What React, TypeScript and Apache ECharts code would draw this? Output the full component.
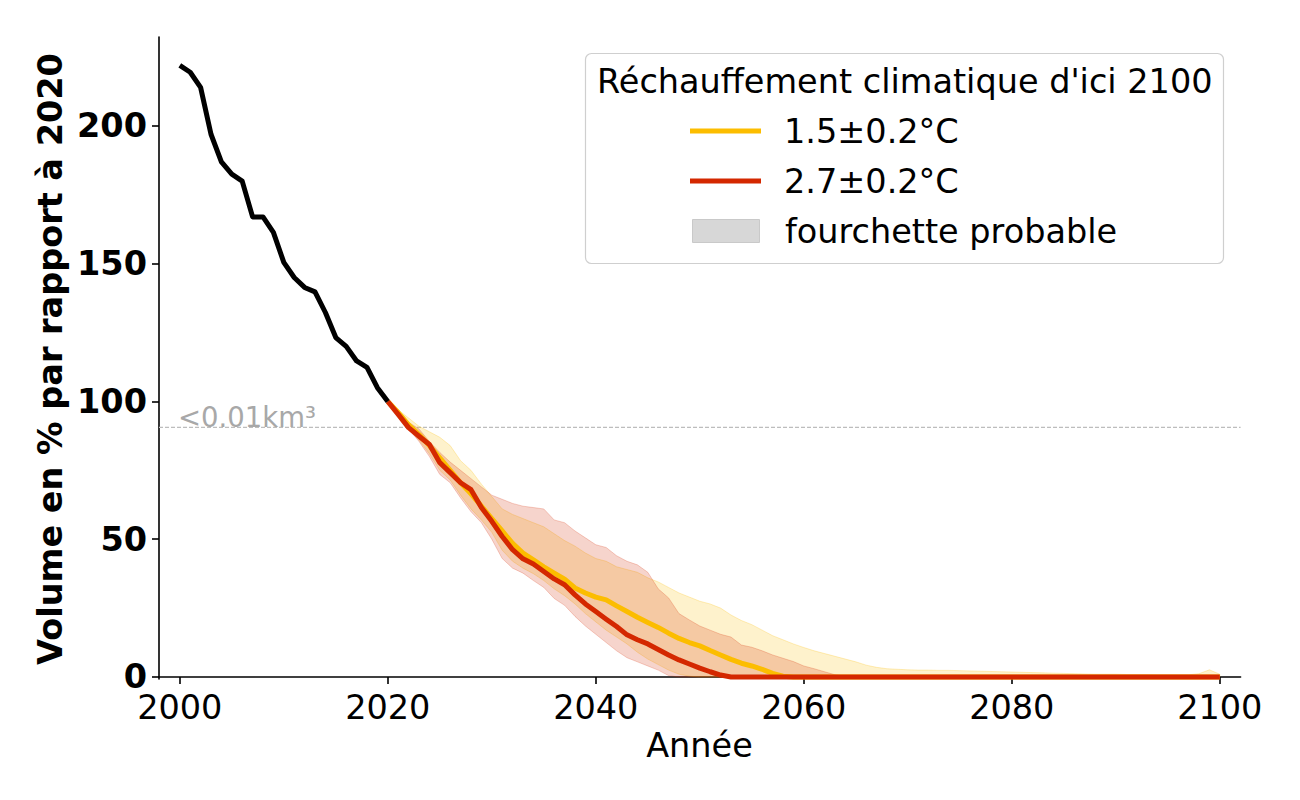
import React, { useEffect, useRef } from "react";
import * as echarts from "echarts";

// ---------- data ----------
const histYears = [2000, 2001, 2002, 2003, 2004, 2005, 2006, 2007, 2008, 2009, 2010, 2011, 2012, 2013, 2014, 2015, 2016, 2017, 2018, 2019, 2020];
const histVolume = [222, 219.5, 214, 197, 187, 182.5, 180, 167, 167, 161.4, 150.5, 145, 141.4, 139.8, 132.3, 123.2, 120, 114.7, 112.4, 105, 100];

const projYears = Array.from({ length: 81 }, (_, i) => 2020 + i);

// 1.5±0.2°C
const yellowMid = [
  100, 96, 91.5, 88, 84, 79.5, 75, 70.5, 66.5, 62,
  57.5, 53, 48.5, 45, 42.5, 40, 37.7, 35.5, 32.3, 30.5,
  29, 28, 25.8, 23.8, 21.7, 19.8, 18, 15.9, 14, 12.5,
  11.3, 9.6, 8, 6.4, 5, 4, 2.8, 1.3, 0.3, 0,
  0, 0, 0, 0, 0, 0, 0, 0, 0, 0,
  0, 0, 0, 0, 0, 0, 0, 0, 0, 0,
  0, 0, 0, 0, 0, 0, 0, 0, 0, 0,
  0, 0, 0, 0, 0, 0, 0, 0, 0, 0,
  0,
];
const yellowLo = [
  100, 95.5, 90.5, 86, 81, 75, 71.5, 66, 61, 57,
  52.5, 46, 42, 39.5, 37.5, 35, 32, 29.5, 26.5, 23,
  20, 17, 14.5, 12, 9, 6.5, 4.5, 2.5, 1, 0.3,
  0, 0, 0, 0, 0, 0, 0, 0, 0, 0,
  0, 0, 0, 0, 0, 0, 0, 0, 0, 0,
  0, 0, 0, 0, 0, 0, 0, 0, 0, 0,
  0, 0, 0, 0, 0, 0, 0, 0, 0, 0,
  0, 0, 0, 0, 0, 0, 0, 0, 0, 0,
  0,
];
const yellowHi = [
  100, 97, 94, 91, 89, 87, 84, 78.5, 75, 70,
  65.5, 61, 59, 57.5, 56, 54.5, 52, 49.5, 47.5, 45,
  43, 42, 40, 39, 38, 36, 34.5, 32.5, 30.5, 29,
  27.5, 26.5, 25, 22.5, 20.5, 19, 17, 15, 13.5, 12,
  10.7, 9.5, 8.5, 7.5, 6.5, 5.5, 4.3, 3.5, 3, 2.8,
  2.6, 2.5, 2.5, 2.4, 2.4, 2.3, 2.2, 2.1, 2, 1.9,
  1.8, 1.7, 1.6, 1.5, 1.4, 1.3, 1.2, 1.1, 1, 1,
  1, 0.9, 0.9, 0.9, 0.8, 0.8, 0.8, 0.8, 1.2, 2.6,
  1,
];

// 2.7±0.2°C
const redMid = [
  100, 95.3, 90.5, 87.4, 84.4, 77.8, 74.2, 70.5, 68, 61.5,
  56.5, 51, 46.2, 42.9, 41, 38.3, 35.6, 33.5, 29.8, 26.5,
  23.8, 21, 18.3, 15.3, 13.5, 12, 10, 8, 6.2, 4.7,
  3.2, 1.9, 0.7, 0, 0, 0, 0, 0, 0, 0,
  0, 0, 0, 0, 0, 0, 0, 0, 0, 0,
  0, 0, 0, 0, 0, 0, 0, 0, 0, 0,
  0, 0, 0, 0, 0, 0, 0, 0, 0, 0,
  0, 0, 0, 0, 0, 0, 0, 0, 0, 0,
  0,
];
const redLo = [
  100, 95, 90, 85.5, 80, 73.5, 70.5, 65, 60, 56,
  50, 43, 39.5, 37.7, 35, 32.5, 28.5, 26, 22, 18.5,
  15.5, 12.5, 9.5, 7, 5.5, 4, 2.5, 0.5, 0, 0,
  0, 0, 0, 0, 0, 0, 0, 0, 0, 0,
  0, 0, 0, 0, 0, 0, 0, 0, 0, 0,
  0, 0, 0, 0, 0, 0, 0, 0, 0, 0,
  0, 0, 0, 0, 0, 0, 0, 0, 0, 0,
  0, 0, 0, 0, 0, 0, 0, 0, 0, 0,
  0,
];
const redHi = [
  100, 96, 92.5, 90, 85.5, 81.5, 78, 75, 72, 69,
  66, 64.5, 63, 62, 61.5, 61, 57, 56, 53, 50.5,
  48, 47, 44, 42, 40.7, 38, 32, 28.7, 23, 20.7,
  18.5, 17, 15.5, 14.5, 11.6, 10.8, 9.5, 8, 6.8, 5.6,
  4, 3, 1.9, 0.8, 0.3, 0, 0, 0, 0, 0,
  0, 0, 0, 0, 0, 0, 0, 0, 0, 0,
  0, 0, 0, 0, 0, 0, 0, 0, 0, 0,
  0, 0, 0, 0, 0, 0, 0, 0, 0, 0,
  0,
];

const xTicks = [2000, 2020, 2040, 2060, 2080, 2100];
const yTicks = [0, 50, 100, 150, 200];
const thresholdValue = 90.6;
const thresholdLabel = "<0.01km³";
const legendTitle = "Réchauffement climatique d'ici 2100";
const seriesNames = ["1.5±0.2°C", "2.7±0.2°C"];
const bandName = "fourchette probable";
const xName = "Année";
const yName = "Volume en % par rapport à 2020";

// ---------- styles ----------
const FONT = '"DejaVu Sans", sans-serif';
const FS = 33.5;
const YELLOW = "#fcbd00";
const RED = "#d42800";

function bandSeries(lo: number[], hi: number[], fill: string, stroke: string) {
  return {
    type: "custom",
    silent: true,
    z: 2,
    data: projYears.map((y, i) => [y, lo[i], hi[i]]),
    encode: { x: 0, y: [1, 2] },
    renderItem: (params: any, api: any) => {
      if (params.dataIndex !== 0) return null;
      const pts: number[][] = [];
      for (let i = 0; i < projYears.length; i++) pts.push(api.coord([projYears[i], hi[i]]));
      for (let i = projYears.length - 1; i >= 0; i--) pts.push(api.coord([projYears[i], lo[i]]));
      return {
        type: "polygon",
        shape: { points: pts },
        style: { fill, stroke, lineWidth: 1 },
      };
    },
  };
}

function lineSeries(xs: number[], ys: number[], color: string, name: string) {
  return {
    type: "line",
    name,
    data: xs.map((x, i) => [x, ys[i]]),
    showSymbol: false,
    symbol: "none",
    silent: true,
    z: 3,
    lineStyle: { color, width: 5, join: "round", cap: "butt" },
  };
}

export default function App() {
  const ref = useRef<HTMLDivElement>(null);

  useEffect(() => {
    if (!ref.current) return;
    const chart = echarts.init(ref.current, undefined, { renderer: "svg" });

    const option: any = {
      animation: false,
      textStyle: { fontFamily: FONT },
      grid: { left: 159, top: 37, width: 1081.6, height: 642, containLabel: false },
      xAxis: {
        type: "value",
        min: 1998,
        max: 2102,
        axisLine: { show: true, lineStyle: { color: "#000", width: 1.6 } },
        axisTick: { show: true, customValues: xTicks, length: 7, lineStyle: { color: "#000", width: 1.6 } },
        axisLabel: {
          customValues: xTicks,
          formatter: (v: number) => String(v),
          margin: 11,
          color: "#000",
          fontSize: FS,
          fontFamily: FONT,
        },
        splitLine: { show: false },
      },
      yAxis: {
        type: "value",
        min: -0.73,
        max: 232.3,
        axisLine: { show: true, lineStyle: { color: "#000", width: 1.6 } },
        axisTick: { show: true, customValues: yTicks, length: 7, lineStyle: { color: "#000", width: 1.6 } },
        axisLabel: {
          customValues: yTicks,
          formatter: (v: number) => String(v),
          margin: 12,
          color: "#000",
          fontSize: FS,
          fontWeight: "bold",
          fontFamily: FONT,
        },
        splitLine: { show: false },
      },
      series: [
        {
          type: "line",
          data: [[1998, thresholdValue], [2102, thresholdValue]],
          showSymbol: false,
          symbol: "none",
          silent: true,
          z: 1,
          lineStyle: { color: "#bdbdbd", width: 1.2, type: [4, 2] },
        },
        bandSeries(yellowLo, yellowHi, "rgba(252,189,0,0.2)", "rgba(252,189,0,0.25)"),
        bandSeries(redLo, redHi, "rgba(212,40,0,0.2)", "rgba(212,40,0,0.22)"),
        lineSeries(projYears, yellowMid, YELLOW, seriesNames[0]),
        lineSeries(projYears, redMid, RED, seriesNames[1]),
        lineSeries(histYears, histVolume, "#000", "historique"),
      ],
      graphic: [
        {
          type: "text",
          x: 178,
          y: 417,
          z: 10,
          style: { text: thresholdLabel, font: `27.5px ${FONT}`, fill: "#a8a8a8", align: "left", verticalAlign: "middle" },
        },
        {
          type: "text",
          x: 50,
          y: 359,
          rotation: Math.PI / 2,
          z: 10,
          style: { text: yName, font: `bold ${FS}px ${FONT}`, fill: "#000", align: "center", verticalAlign: "middle" },
        },
        {
          type: "text",
          x: 699.5,
          y: 745,
          z: 10,
          style: { text: xName, font: `${FS}px ${FONT}`, fill: "#000", align: "center", verticalAlign: "middle" },
        },
        // legend
        {
          type: "rect",
          z: 20,
          shape: { x: 585.5, y: 53.5, width: 638, height: 210, r: 6 },
          style: { fill: "rgba(255,255,255,0.8)", stroke: "#cfcfcf", lineWidth: 1.2 },
        },
        {
          type: "text",
          x: 597,
          y: 81,
          z: 21,
          style: { text: legendTitle, font: `${FS}px ${FONT}`, fill: "#000", align: "left", verticalAlign: "middle" },
        },
        {
          type: "line",
          z: 21,
          shape: { x1: 690, y1: 131, x2: 761, y2: 131 },
          style: { stroke: YELLOW, lineWidth: 5 },
        },
        {
          type: "text",
          x: 784,
          y: 131,
          z: 21,
          style: { text: seriesNames[0], font: `${FS}px ${FONT}`, fill: "#000", align: "left", verticalAlign: "middle" },
        },
        {
          type: "line",
          z: 21,
          shape: { x1: 690, y1: 181, x2: 761, y2: 181 },
          style: { stroke: RED, lineWidth: 5 },
        },
        {
          type: "text",
          x: 784,
          y: 181,
          z: 21,
          style: { text: seriesNames[1], font: `${FS}px ${FONT}`, fill: "#000", align: "left", verticalAlign: "middle" },
        },
        {
          type: "rect",
          z: 21,
          shape: { x: 692.5, y: 219.5, width: 67, height: 23 },
          style: { fill: "#d7d7d7", stroke: "#c9c9c9", lineWidth: 1 },
        },
        {
          type: "text",
          x: 785,
          y: 231,
          z: 21,
          style: { text: bandName, font: `${FS}px ${FONT}`, fill: "#000", align: "left", verticalAlign: "middle" },
        },
      ],
    };

    chart.setOption(option);
    return () => chart.dispose();
  }, []);

  return (
    <div
      ref={ref}
      style={{ position: "absolute", left: 0, top: 0, width: 1300, height: 800, background: "#fff" }}
    />
  );
}
